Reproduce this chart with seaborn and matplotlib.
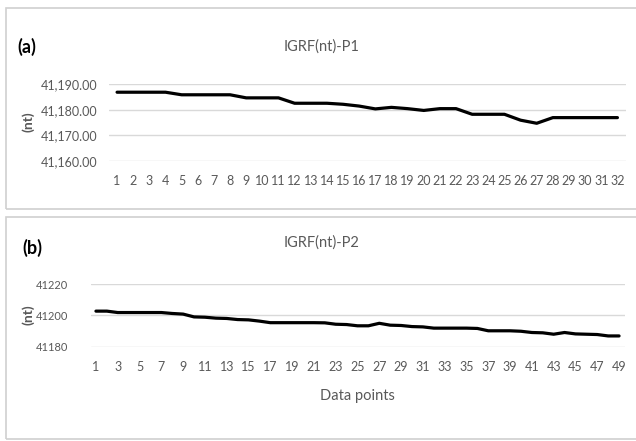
import numpy as np
import pandas as pd
import matplotlib
matplotlib.use("Agg")
import matplotlib.pyplot as plt
from matplotlib.patches import Rectangle
from matplotlib.ticker import StrMethodFormatter
import seaborn as sns

# IGRF values
p1_values = [41186.8, 41186.8, 41186.8, 41186.8, 41185.8, 41185.8, 41185.8, 41185.8,
             41184.6, 41184.6, 41184.6, 41182.5, 41182.5, 41182.5, 41182.1, 41181.4,
             41180.3, 41180.9, 41180.4, 41179.7, 41180.4, 41180.4, 41178.2, 41178.2,
             41178.2, 41175.9, 41174.7, 41176.9, 41176.9, 41176.9, 41176.9, 41176.9]
p2_values = [41202.8, 41202.8, 41201.9, 41201.9, 41201.9, 41201.9, 41201.9, 41201.3,
             41200.9, 41199.1, 41198.9, 41198.3, 41198.1, 41197.4, 41197.2, 41196.4,
             41195.4, 41195.4, 41195.4, 41195.4, 41195.4, 41195.3, 41194.4, 41194.2,
             41193.4, 41193.4, 41195.0, 41193.8, 41193.6, 41192.9, 41192.7, 41191.9,
             41191.9, 41191.9, 41191.9, 41191.7, 41190.2, 41190.2, 41190.2, 41189.9,
             41189.1, 41188.9, 41188.0, 41189.1, 41188.2, 41188.0, 41187.8, 41186.9,
             41186.9]
p1_yticks = [41160, 41170, 41180, 41190]
p2_yticks = [41180, 41200, 41220]

df1 = pd.DataFrame({"point": np.arange(1, len(p1_values) + 1), "igrf": p1_values})
df2 = pd.DataFrame({"point": np.arange(1, len(p2_values) + 1), "igrf": p2_values})

sns.set_theme(style="white")
plt.rcParams["font.family"] = ["Lato", "DejaVu Sans"]

grey = "#595959"
grid_c = "#d9d9d9"

fig = plt.figure(figsize=(6.36, 4.41), dpi=100)
fig.patch.set_facecolor("white")

# panel frames
fig.patches.append(Rectangle((6 / 636, 1 - 209 / 441), 640 / 636, 201 / 441,
                             transform=fig.transFigure, fill=False,
                             edgecolor="#d0d0d0", linewidth=1.2))
fig.patches.append(Rectangle((6 / 636, 1 - 439 / 441), 640 / 636, 222 / 441,
                             transform=fig.transFigure, fill=False,
                             edgecolor="#d0d0d0", linewidth=1.2))

ax1 = fig.add_axes([109 / 636, 1 - 161 / 441, 516.5 / 636, 77 / 441])
ax2 = fig.add_axes([90.5 / 636, 1 - 346.7 / 441, 534 / 636, 62.4 / 441])

sns.lineplot(data=df1, x="point", y="igrf", ax=ax1, color="black", linewidth=2.3)
sns.lineplot(data=df2, x="point", y="igrf", ax=ax2, color="black", linewidth=2.3)

for ax, df, yt in [(ax1, df1, p1_yticks), (ax2, df2, p2_yticks)]:
    n = len(df)
    ax.set_xlim(0.5, n + 0.5)
    ax.set_ylim(yt[0], yt[-1])
    ax.set_yticks(yt)
    for v in yt:
        ax.axhline(v, color=grid_c, linewidth=1.0, zorder=0)
    for s in ax.spines.values():
        s.set_visible(False)
    ax.tick_params(axis="both", length=0, colors=grey, labelsize=9)
    ax.set_xlabel("")
    ax.set_ylabel("")
    ax.set_facecolor("none")

ax1.set_xticks(df1["point"])
ax1.yaxis.set_major_formatter(StrMethodFormatter("{x:,.2f}"))
ax1.tick_params(axis="x", pad=10)
ax1.tick_params(axis="y", pad=8)

ax2.set_xticks(df2["point"][::2])
ax2.tick_params(axis="x", pad=10)
ax2.tick_params(axis="y", pad=16, labelsize=8)
ax2.set_xlabel("Data points", color=grey, fontsize=10.5, labelpad=12)

# y axis titles
fig.text(28 / 636, 1 - 122 / 441, "(nt)", color=grey, fontsize=10,
         fontweight="bold", rotation=90, ha="center", va="center")
fig.text(28 / 636, 1 - 315 / 441, "(nt)", color=grey, fontsize=10,
         fontweight="bold", rotation=90, ha="center", va="center")

fig.text(322 / 636, 1 - 47 / 441, "IGRF(nt)-P1", color=grey, fontsize=10.5,
         ha="center", va="center")
fig.text(322 / 636, 1 - 243 / 441, "IGRF(nt)-P2", color=grey, fontsize=10.5,
         ha="center", va="center")
fig.text(17 / 636, 1 - 47 / 441, "(a)", color="black", fontsize=13,
         fontweight="bold", ha="left", va="center")
fig.text(22 / 636, 1 - 248 / 441, "(b)", color="black", fontsize=13,
         fontweight="bold", ha="left", va="center")

fig.savefig("out.png", dpi=100, facecolor="white")
